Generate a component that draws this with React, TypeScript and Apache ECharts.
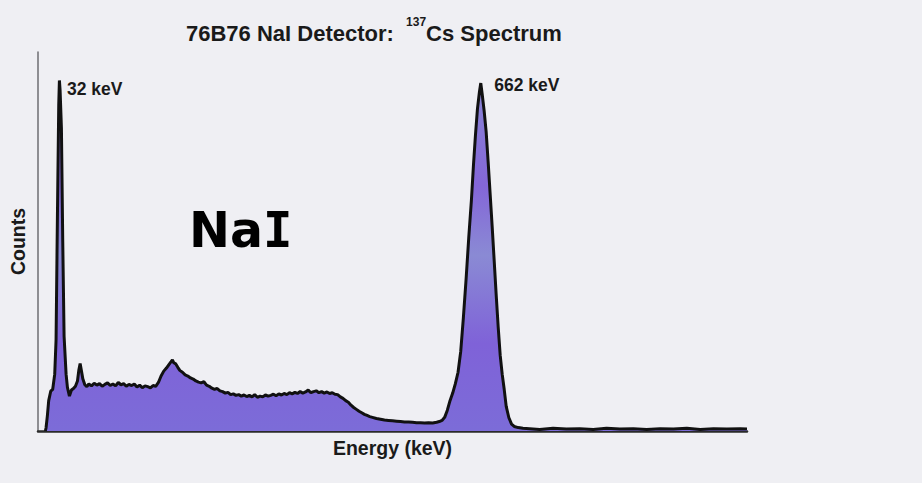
import React, { useEffect, useRef } from "react";
import * as echarts from "echarts";

// Gamma-ray energy (keV) of each channel sample
const energyKeV = [
  11, 12, 14, 16, 19, 22, 25, 27, 29, 31, 32, 33, 35, 37, 39, 42, 44, 47, 50, 53,
  56, 59, 61, 63, 65, 67, 70, 73, 76, 80, 84, 88, 92, 96, 100, 104, 108, 112, 116,
  120, 124, 128, 132, 136, 140, 144, 148, 152, 156, 160, 164, 168, 172, 176, 180,
  184, 188, 192, 196, 199, 201, 203, 206, 209, 212, 216, 220, 224, 228, 232, 236,
  240, 244, 248, 252, 256, 260, 264, 268, 272, 276, 280, 284, 288, 292, 296, 300,
  304, 308, 312, 316, 320, 324, 328, 332, 336, 340, 344, 348, 352, 356, 360, 364,
  368, 372, 376, 380, 384, 388, 392, 396, 400, 404, 408, 412, 416, 420, 424, 428,
  432, 436, 440, 444, 448, 452, 456, 460, 464, 468, 472, 476, 480, 484, 488, 492,
  496, 500, 506, 512, 518, 524, 530, 536, 542, 548, 554, 560, 566, 572, 578, 584,
  590, 596, 600, 604, 608, 612, 616, 620, 624, 628, 632, 636, 640, 644, 648, 651,
  654, 657, 660, 662, 664, 667, 670, 673, 676, 679, 682, 685, 688, 691, 694, 697,
  700, 704, 708, 712, 718, 725, 735, 750, 770, 790, 810, 830, 850, 870, 890, 910,
  930, 950, 970, 990, 1010, 1030, 1050, 1060,
];

// Recorded counts (arbitrary units) for each energy above
const counts = [
  0, 8, 40, 80, 105, 110, 150, 240, 560, 860, 925, 900, 800, 500, 250, 150, 115, 92, 108, 112,
  118, 132, 160, 178, 158, 138, 122, 117, 124, 119, 126, 121, 125, 118, 123, 127, 120, 124, 119,
  128, 122, 125, 118, 123, 120, 124, 116, 121, 114, 119, 117, 114, 120, 118, 128,
  145, 158, 166, 176, 183, 188, 180, 177, 168, 160, 155, 148, 145, 140, 137, 132,
  129, 127, 130, 121, 118, 113, 110, 112, 106, 104, 100, 102, 96, 98, 94, 96,
  92, 95, 91, 94, 90, 96, 89, 92, 90, 95, 92, 94, 97, 93, 98, 95,
  99, 96, 101, 98, 102, 99, 104, 100, 103, 108, 101, 104, 106, 101, 104, 100,
  103, 99, 101, 97, 96, 90, 86, 80, 76, 68, 62, 57, 52, 48, 44, 41,
  38, 36, 33, 31, 29, 28, 27, 26, 25, 24, 24, 23, 22, 22, 21, 22,
  21, 23, 25, 28, 36, 55, 80, 100, 125, 155, 210, 300, 400, 510, 610, 700,
  780, 850, 895, 918, 890, 845, 790, 710, 625, 540, 450, 360, 275, 200, 150, 110,
  65, 35, 18, 12, 9, 7, 6, 4, 7, 5, 6, 4, 7, 5, 6, 4,
  6, 5, 7, 4, 6, 5, 6, 5,
];

// Labelled photopeaks: [energy keV, counts]
const peakLabels = [
  { energy: 32, counts: 925, text: "32 keV", offset: [8, 9] },
  { energy: 662, counts: 918, text: "662 keV", offset: [14, 2] },
];

const titleMain = "76B76 NaI Detector:  ";
const titleIsotope = "137";
const titleRest = "Cs Spectrum";
const xAxisTitle = "Energy (keV)";
const yAxisTitle = "Counts";
const crystalLabelStem = "Na";
const crystalLabelTail = "I";

const ARIAL = "'Liberation Sans', Arial, Helvetica, sans-serif";

export default function App() {
  const ref = useRef<HTMLDivElement>(null);

  useEffect(() => {
    if (!ref.current) return;
    const chart = echarts.init(ref.current, null, { renderer: "svg" });

    const spectrum = energyKeV.map((e, i) => [e, counts[i]]);

    chart.setOption({
      animation: false,
      backgroundColor: "#efeff3",
      title: {
        text: `{a|${titleMain}}{sup|${titleIsotope}}{a|${titleRest}}`,
        left: 181,
        top: 11,
        textStyle: {
          rich: {
            a: {
              fontFamily: ARIAL,
              fontWeight: "bold",
              fontSize: 22,
              color: "#1a1a1a",
              lineHeight: 28,
              verticalAlign: "bottom",
            },
            sup: {
              fontFamily: ARIAL,
              fontWeight: "bold",
              fontSize: 12,
              color: "#1a1a1a",
              lineHeight: 28,
              verticalAlign: "top",
            },
          },
        },
      },
      grid: { left: 37, right: 175, top: 52, bottom: 52 },
      xAxis: {
        type: "value",
        min: 0,
        max: 1060,
        name: xAxisTitle,
        nameLocation: "middle",
        nameGap: 7,
        nameTextStyle: {
          fontFamily: ARIAL,
          fontWeight: "bold",
          fontSize: 19.5,
          color: "#1a1a1a",
          verticalAlign: "top",
        },
        axisLine: { show: true, lineStyle: { color: "#2a2a2a", width: 2.5 } },
        axisTick: { show: false },
        axisLabel: { show: false },
        splitLine: { show: false },
      },
      yAxis: {
        type: "value",
        min: 0,
        max: 1000,
        name: yAxisTitle,
        nameLocation: "middle",
        nameRotate: 90,
        nameGap: 10,
        nameTextStyle: {
          fontFamily: ARIAL,
          fontWeight: "bold",
          fontSize: 19.5,
          color: "#1a1a1a",
        },
        axisLine: { show: true, lineStyle: { color: "#6e6e72", width: 1.5 } },
        axisTick: { show: false },
        axisLabel: { show: false },
        splitLine: { show: false },
      },
      series: [
        {
          type: "line",
          data: spectrum,
          showSymbol: false,
          smooth: false,
          lineStyle: { color: "#111", width: 3 },
          areaStyle: {
            opacity: 1,
            color: new echarts.graphic.LinearGradient(0, 0, 0, 1, [
              { offset: 0, color: "#8a86d4" },
              { offset: 0.3, color: "#8466d8" },
              { offset: 0.5, color: "#8a8ad4" },
              { offset: 0.75, color: "#7f62d8" },
              { offset: 1, color: "#7c6cd8" },
            ]),
          },
          markPoint: {
            symbol: "circle",
            symbolSize: 1,
            itemStyle: { color: "rgba(0,0,0,0)" },
            data: peakLabels.map((p) => ({
              coord: [p.energy, p.counts],
              value: p.text,
              label: {
                show: true,
                position: p.offset,
                formatter: p.text,
                align: "left",
                verticalAlign: "middle",
                fontFamily: ARIAL,
                fontWeight: "bold",
                fontSize: 17.5,
                color: "#1a1a1a",
              },
            })),
          },
        },
      ],
      graphic: [
        {
          type: "text",
          x: 189,
          y: 230,
          style: {
            text: `{n|${crystalLabelStem}}{i|${crystalLabelTail}}`,
            textVerticalAlign: "middle",
            rich: {
              n: {
                fontFamily: "'DejaVu Sans', Verdana, sans-serif",
                fontWeight: "bold",
                fontSize: 49,
                fill: "#000",
              },
              i: {
                fontFamily: "'DejaVu Sans Mono', monospace",
                fontWeight: "bold",
                fontSize: 49,
                fill: "#000",
              },
            },
          },
        },
      ],
    });

    return () => chart.dispose();
  }, []);

  return (
    <div
      ref={ref}
      style={{ position: "fixed", left: 0, top: 0, width: 922, height: 483, background: "#efeff3" }}
    />
  );
}
